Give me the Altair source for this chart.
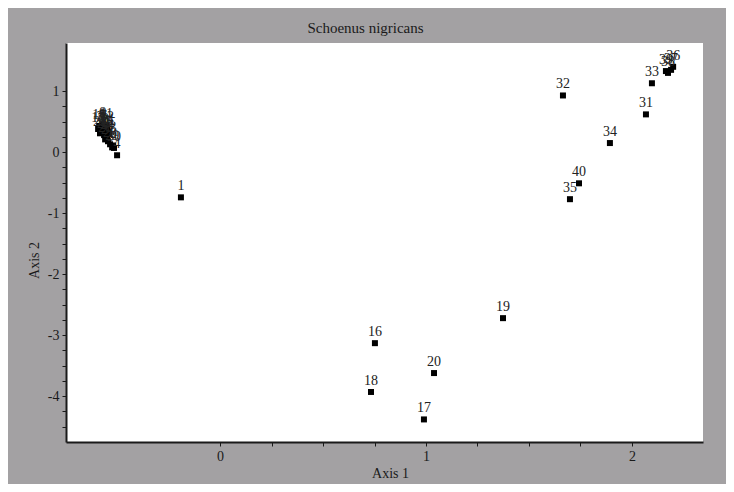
import altair as alt
import pandas as pd

labels = [
    "1", "16", "17", "18", "19", "20",
    "31", "32", "33", "34", "35", "36", "37", "38", "39", "40",
    "3", "5", "6", "7", "8", "9", "10", "11", "12", "13", "14", "15",
    "21", "22", "23", "24", "25", "26", "27", "28", "29", "30", "2", "4",
]
axis1 = [
    -0.19, 0.752, 0.990, 0.733, 1.374, 1.039,
    2.068, 1.665, 2.097, 1.893, 1.699, 2.200, 2.190, 2.175, 2.165, 1.743,
    -0.583, -0.573, -0.563, -0.578, -0.558, -0.568, -0.587, -0.553, -0.549, -0.592, -0.568, -0.553,
    -0.544, -0.583, -0.563, -0.549, -0.539, -0.558, -0.544, -0.534, -0.524, -0.515, -0.519, -0.500,
]
axis2 = [
    -0.74, -3.13, -4.38, -3.93, -2.72, -3.62,
    0.62, 0.93, 1.13, 0.15, -0.77, 1.40, 1.35, 1.30, 1.33, -0.51,
    0.39, 0.41, 0.41, 0.36, 0.36, 0.46, 0.43, 0.44, 0.39, 0.38, 0.33, 0.31,
    0.34, 0.31, 0.28, 0.26, 0.30, 0.21, 0.18, 0.13, 0.08, 0.07, 0.11, -0.05,
]

df = pd.DataFrame({"label": labels, "a1": axis1, "a2": axis2})

x_ticks = [i * 0.25 for i in range(0, 9)]
y_ticks = [-4.5 + i * 0.25 for i in range(0, 23)]

FONT = "Liberation Serif"
label_expr = "datum.value % 1 == 0 ? '' + datum.value : ''"

x = alt.X(
    "a1:Q",
    scale=alt.Scale(domain=[-0.748, 2.345], nice=False, zero=False),
    axis=alt.Axis(
        title="Axis 1", values=x_ticks, labelExpr=label_expr, grid=False,
        domainColor="#1a1a1a", domainWidth=2, tickColor="#1a1a1a", tickSize=4,
        labelFont=FONT, labelFontSize=14, labelColor="#1a1a1a", labelPadding=3,
        titleFont=FONT, titleFontSize=14, titleFontWeight="normal", titleColor="#1a1a1a",
        titlePadding=3, titleX=324, labelFlush=False,
    ),
)
y = alt.Y(
    "a2:Q",
    scale=alt.Scale(domain=[-4.75, 1.79], nice=False, zero=False),
    axis=alt.Axis(
        title="Axis 2", values=y_ticks, labelExpr=label_expr, grid=False,
        domainColor="#1a1a1a", domainWidth=2, tickColor="#1a1a1a", tickSize=4,
        labelFont=FONT, labelFontSize=14, labelColor="#1a1a1a", labelPadding=3,
        titleFont=FONT, titleFontSize=14, titleFontWeight="normal", titleColor="#1a1a1a",
        titlePadding=6, titleY=217, labelFlush=False,
    ),
)

pts = alt.Chart(df).mark_square(size=36, color="black", opacity=1).encode(x=x, y=y)
txt = alt.Chart(df).mark_text(
    dy=-11, font=FONT, fontSize=14, color="#222222"
).encode(x=x, y=y, text="label:N")

chart = (pts + txt).properties(
    width=637,
    height=399,
    autosize=alt.AutoSizeParams(type="none"),
    padding={"left": 58, "top": 35, "right": 23, "bottom": 42},
    background="#a3a1a3",
    title=alt.TitleParams(
        "Schoenus nigricans", font=FONT, fontSize=15, fontWeight="normal",
        color="#1a1a1a", anchor="middle", dx=-19, offset=7,
    ),
).configure_view(fill="white", stroke=None)

chart.save("out.html", embed_options={"renderer": "svg", "actions": False})
